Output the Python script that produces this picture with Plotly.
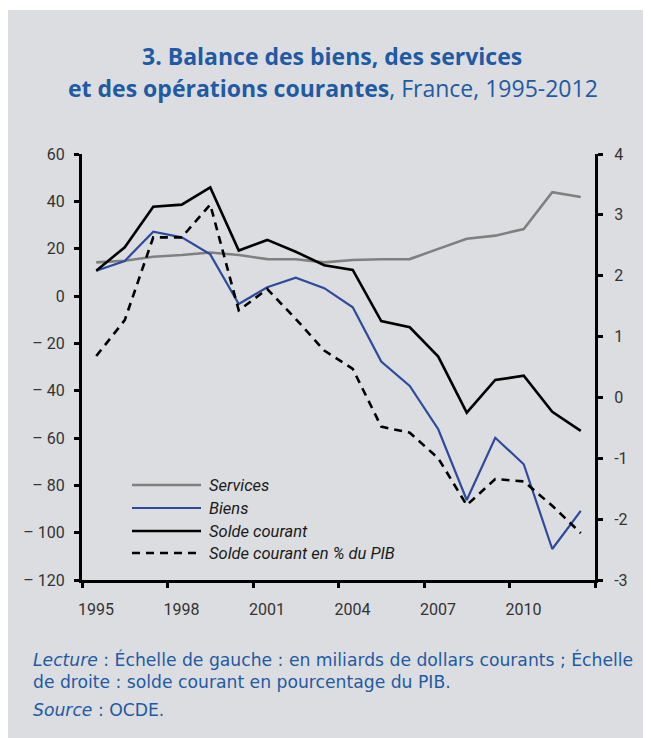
import plotly.graph_objects as go

# ---------------- data ----------------
years = list(range(1995, 2013))
services = [14.2, 14.9, 16.6, 17.3, 18.4, 17.3, 15.6, 15.5, 14.2, 15.2, 15.5, 15.6, 19.9, 24.2, 25.5, 28.3, 43.9, 41.8]
biens = [10.7, 14.8, 27.2, 24.8, 17.6, -3.4, 3.7, 7.7, 3.3, -4.8, -27.7, -38.0, -56.3, -86.2, -59.9, -71.1, -106.9, -90.8]
solde = [10.7, 20.6, 37.7, 38.6, 45.9, 19.2, 23.7, 18.7, 13.0, 11.0, -10.6, -13.2, -25.6, -49.3, -35.5, -33.7, -48.9, -57.0]
solde_pib = [0.68, 1.27, 2.63, 2.63, 3.17, 1.43, 1.78, 1.29, 0.77, 0.47, -0.48, -0.58, -1.00, -1.77, -1.34, -1.38, -1.78, -2.23]

series_names = ["Services", "Biens", "Solde courant", "Solde courant en % du PIB"]

x_tickvals = [1995, 1998, 2001, 2004, 2007, 2010, 2013]
x_ticktext = ["1995", "1998", "2001", "2004", "2007", "2010", ""]
left_tickvals = [60, 40, 20, 0, -20, -40, -60, -80, -100, -120]
left_ticktext = ["60", "40", "20", "0", "– 20", "– 40", "– 60", "– 80", "– 100", "– 120"]
right_tickvals = [4, 3, 2, 1, 0, -1, -2, -3]
right_ticktext = ["4", "3", "2", "1", "0", "-1", "-2", "-3"]

title_line1 = "<b>3. Balance des biens, des services</b>"
title_line2 = "<b>et des opérations courantes</b>, France, 1995-2012"
note_text = ("<i>Lecture</i> : Échelle de gauche : en miliards de dollars courants ; Échelle"
             "<br>de droite : solde courant en pourcentage du PIB.")
source_line = "<i>Source</i> : OCDE."

# ---------------- style ----------------
OFF = 8  # page body margin
W, H = 643, 738
L, R, T, B = 82 - OFF, W - (595 - OFF), 154 - OFF, H - (580 - OFF)
PW, PH = W - L - R, H - T - B
BLUE_TXT = "#1f5aa4"
GREY_BG = "#dcdde0"
FONT = "Roboto, Liberation Sans, sans-serif"
TXT_FONT = "Open Sans, Roboto, sans-serif"
NOTE_FONT = "DejaVu Sans, Open Sans, sans-serif"

styles = [
    dict(color="#808080", width=2.6, dash="solid"),
    dict(color="#2f4a9c", width=2.2, dash="solid"),
    dict(color="#000000", width=2.6, dash="solid"),
    dict(color="#000000", width=2.6, dash="8px,6px"),
]


def px_x(px):
    return (px - OFF - L) / PW


def px_y(py):
    return (H - B - (py - OFF)) / PH


xs = [y + 0.5 for y in years]

fig = go.Figure()
all_series = [services, biens, solde, solde_pib]
axes = ["y", "y", "y", "y2"]
for name, vals, st, ax in zip(series_names, all_series, styles, axes):
    fig.add_trace(go.Scatter(x=xs, y=vals, name=name, mode="lines", yaxis=ax,
                             line=st, showlegend=False, hoverinfo="x+y+name"))

axis_common = dict(showgrid=False, zeroline=False, showline=True, linecolor="black",
                   linewidth=3, ticks="outside", ticklen=5, tickwidth=2.5, tickcolor="black",
                   tickfont=dict(family=FONT, size=16, color="#333333"))

fig.update_layout(
    width=W, height=H,
    margin=dict(l=L, r=R, t=T, b=B, pad=0),
    paper_bgcolor=GREY_BG,
    plot_bgcolor=GREY_BG,
    font=dict(family=FONT),
    xaxis=dict(range=[1995, 2013], tickmode="array", tickvals=x_tickvals, ticktext=x_ticktext,
               ticklabelshift=14, ticklabelstandoff=8, **axis_common),
    yaxis=dict(range=[-120, 60], tickmode="array", tickvals=left_tickvals, ticktext=left_ticktext,
               ticklabelstandoff=6, **axis_common),
    yaxis2=dict(range=[-3, 4], tickmode="array", tickvals=right_tickvals, ticktext=right_ticktext,
                overlaying="y", side="right", ticklabelstandoff=8, **axis_common),
    showlegend=False,
)

# thin white strip at the very top (panel starts slightly lower)
fig.add_shape(type="rect", xref="paper", yref="paper", layer="below",
              x0=px_x(0), x1=px_x(700), y0=px_y(10), y1=px_y(0),
              fillcolor="white", line=dict(width=0))

# title
fig.add_annotation(text=title_line1, xref="paper", yref="paper", x=px_x(332), y=px_y(56),
                   xanchor="center", yanchor="middle", showarrow=False,
                   font=dict(family=TXT_FONT, size=23, color=BLUE_TXT))
fig.add_annotation(text=title_line2, xref="paper", yref="paper", x=px_x(333), y=px_y(88.5),
                   xanchor="center", yanchor="middle", showarrow=False,
                   font=dict(family=TXT_FONT, size=23, color=BLUE_TXT))

# notes
fig.add_annotation(text=note_text, xref="paper", yref="paper", x=px_x(31), y=px_y(670),
                   xanchor="left", yanchor="middle", showarrow=False, align="left",
                   font=dict(family=NOTE_FONT, size=17.2, color=BLUE_TXT))
fig.add_annotation(text=source_line, xref="paper", yref="paper", x=px_x(31), y=px_y(710),
                   xanchor="left", yanchor="middle", showarrow=False, align="left",
                   font=dict(family=NOTE_FONT, size=17.2, color=BLUE_TXT))

# legend (manual, long line keys)
leg_rows = [485, 508, 531, 553]
for name, st, yr in zip(series_names, styles, leg_rows):
    fig.add_shape(type="line", xref="paper", yref="paper",
                  x0=px_x(132), x1=px_x(201), y0=px_y(yr), y1=px_y(yr),
                  line=dict(color=st["color"], width=st["width"], dash=st["dash"]))
    fig.add_annotation(text="<i>" + name + "</i>", xref="paper", yref="paper",
                       x=px_x(207), y=px_y(yr), xanchor="left", yanchor="middle",
                       showarrow=False, font=dict(family=FONT, size=16.5, color="#1a1a1a"))

fig.write_html("out.html")
